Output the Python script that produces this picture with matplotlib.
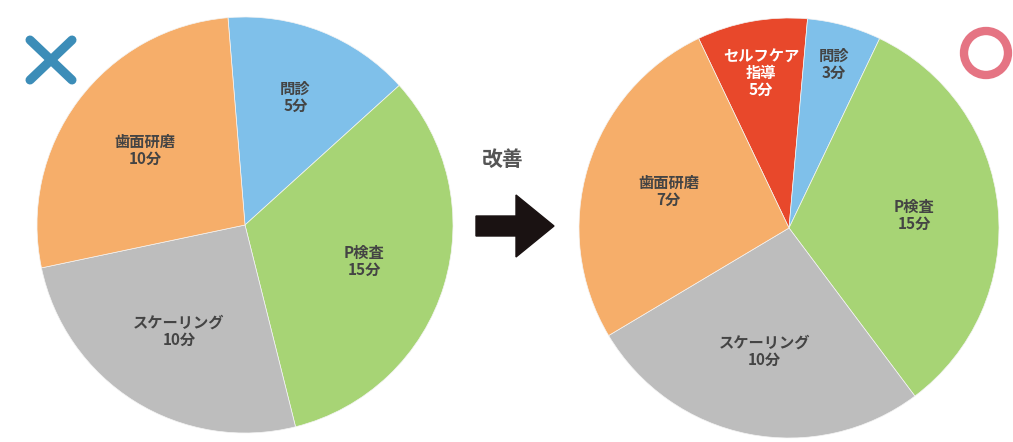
import matplotlib.pyplot as plt
from matplotlib.patches import Circle, FancyArrow

plt.rcParams['font.family'] = ['Noto Sans CJK JP', 'DejaVu Sans']

# 改善前（×）: 問診, P検査, スケーリング, 歯面研磨
before_labels = ['問診\n5分', 'P検査\n15分', 'スケーリング\n10分', '歯面研磨\n10分']
before_shares = [14.6, 32.8, 25.6, 27.0]   # 図から読んだ割合 (%)
before_colors = ['#7fc0ea', '#a7d475', '#bdbdbd', '#f6ae6a']

# 改善後（○）: セルフケア指導を追加
after_labels = ['セルフケア\n指導\n5分', '問診\n3分', 'P検査\n15分', 'スケーリング\n10分', '歯面研磨\n7分']
after_shares = [8.5, 5.7, 32.7, 26.7, 26.5]
after_colors = ['#e8482b', '#7fc0ea', '#a7d475', '#bdbdbd', '#f6ae6a']

W, H = 1013, 442
fig = plt.figure(figsize=(W / 100, H / 100), dpi=100)


def pie_axes(cx, cy, r):
    return fig.add_axes([(cx - r) / W, (H - cy - r) / H, 2 * r / W, 2 * r / H])


label_style = dict(fontsize=11, color='#444444', ha='center', va='center',
                   linespacing=1.1, fontweight='bold')

# 左の円グラフ
ax1 = pie_axes(245, 225, 208)
w1, t1 = ax1.pie(before_shares, colors=before_colors, startangle=94.7,
                 counterclock=False, labels=before_labels, labeldistance=0.6,
                 wedgeprops=dict(edgecolor='#f4f4f4', linewidth=0.5),
                 textprops=label_style)
t1[0].set_position((t1[0].get_position()[0] * 1.1, t1[0].get_position()[1] * 1.1))
ax1.set_xlim(-1, 1)
ax1.set_ylim(-1, 1)
ax1.set_aspect('equal')

# 右の円グラフ
ax2 = pie_axes(789, 228, 210)
w2, t2 = ax2.pie(after_shares, colors=after_colors, startangle=115.5,
                 counterclock=False, labels=after_labels, labeldistance=0.6,
                 wedgeprops=dict(edgecolor='#f4f4f4', linewidth=0.5),
                 textprops=label_style)
# 小さい扇形のラベルは外側寄り
for t, k in [(t2[0], 1.25), (t2[1], 1.35)]:
    x, y = t.get_position()
    t.set_position((x * k, y * k))
t2[0].set_color('white')
ax2.set_xlim(-1, 1)
ax2.set_ylim(-1, 1)
ax2.set_aspect('equal')

# 矢印・記号用のオーバーレイ
ov = fig.add_axes([0, 0, 1, 1])
ov.set_xlim(0, W)
ov.set_ylim(H, 0)
ov.axis('off')
ov.patch.set_alpha(0)

ov.text(503, 160, '改善', fontsize=15, color='#555555', ha='center', va='center',
        fontweight='bold')
ov.add_patch(FancyArrow(476, 226, 40, 0, width=20, head_width=62, head_length=38,
                        length_includes_head=False, color='#1a1212'))

# ×マーク
ov.plot([30, 72], [40, 80], color='#3c8db8', lw=6.5, solid_capstyle='round')
ov.plot([30, 72], [80, 40], color='#3c8db8', lw=6.5, solid_capstyle='round')

# ○マーク
ov.add_patch(Circle((986, 53), 22, fill=False, edgecolor='#e57483', lw=6))

fig.savefig('out.png', dpi=100, facecolor='white')
